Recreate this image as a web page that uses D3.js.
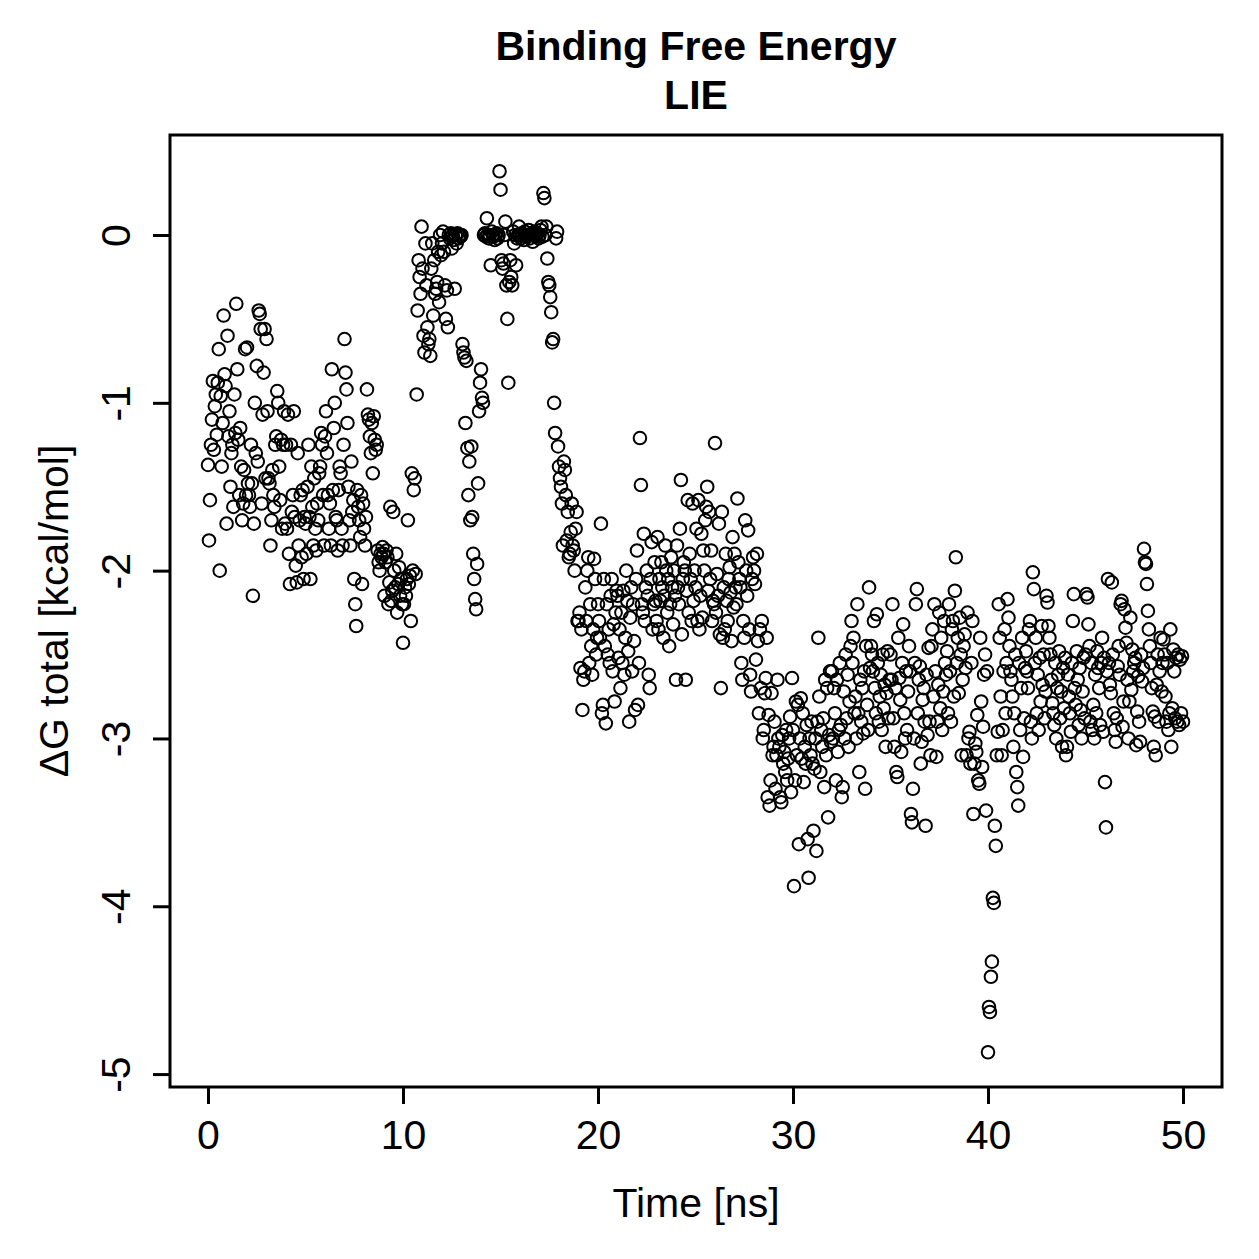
<!DOCTYPE html>
<html>
<head>
<meta charset="utf-8">
<script src="https://cdn.jsdelivr.net/npm/d3@7"></script>
<style>
  body { margin: 0; background: #fff; }
  text { font-family: "Liberation Sans", Arial, Helvetica, sans-serif; }
</style>
</head>
<body>
<div id="chart-area"></div>
<script>
/*
*    LIE binding free energy vs time
*/
var titleLines = ["Binding Free Energy", "LIE"];
var xLabel = "Time [ns]";
var yLabel = "\u0394G total [kcal/mol]";
var xTicks = [0, 10, 20, 30, 40, 50];
var yTicks = [0, -1, -2, -3, -4, -5];
var frameStep = 0.05; // ns between frames

// dG total, one value per frame (20 frames per ns)
var dG_00_10 = [
  -1.37,-1.82,-1.58,-1.25,-1.10,-0.87,-1.28,-1.02,-0.95,-1.19,-0.88,-0.68,-2.00,-0.96,-1.38,-1.12,-0.48,-0.83,-0.90,-1.72,
  -0.60,-1.20,-1.05,-1.50,-1.30,-1.25,-1.62,-0.95,-1.18,-0.41,-0.80,-1.22,-1.55,-1.15,-1.38,-1.70,-1.60,-1.40,-0.68,-1.55,
  -0.67,-1.48,-1.55,-1.62,-1.25,-1.48,-2.15,-1.72,-1.00,-1.30,-0.78,-1.35,-0.45,-0.47,-0.56,-1.60,-1.07,-0.82,-0.56,-1.45,
  -0.62,-1.05,-1.45,-1.48,-1.85,-1.70,-1.40,-1.55,-1.62,-1.25,-1.20,-0.93,-1.00,-1.38,-1.58,-1.22,-1.75,-1.25,-1.05,-1.72,
  -1.25,-1.75,-1.07,-1.90,-2.08,-1.25,-1.65,-1.55,-1.05,-1.68,-1.97,-2.07,-1.30,-1.85,-1.70,-1.55,-1.92,-1.52,-2.05,-1.68,
  -1.72,-1.90,-1.50,-1.25,-1.68,-2.05,-1.38,-1.62,-1.85,-1.45,-1.75,-1.88,-1.60,-1.70,-1.42,-1.38,-1.18,-1.25,-1.55,-1.85,
  -1.20,-1.05,-1.30,-1.55,-1.75,-1.60,-1.85,-0.80,-1.52,-1.15,-1.00,-1.68,-1.70,-1.88,-1.52,-1.38,-1.42,-1.75,-1.85,-1.25,
  -0.62,-0.82,-0.92,-1.12,-1.50,-1.70,-1.85,-1.35,-1.65,-1.58,-2.05,-2.20,-2.33,-1.52,-1.62,-1.70,-1.80,-1.55,-2.08,-1.60,
  -1.75,-1.85,-1.68,-0.92,-1.07,-1.10,-1.20,-1.30,-1.12,-1.42,-1.08,-1.22,-1.28,-1.25,-1.88,-1.95,-2.00,-1.90,-1.92,-1.86,
  -1.90,-2.15,-1.95,-1.88,-1.92,-2.20,-2.07,-1.62,-2.18,-2.12,-1.65,-2.00,-2.10,-1.90,-2.25,-2.08,-1.98,-2.15,-2.05,-2.20
];
var dG_10_20 = [
  -2.43,-2.20,-2.10,-2.15,-2.05,-1.70,-2.08,-2.03,-2.30,-1.42,-2.00,-1.52,-1.45,-2.02,-0.95,-0.45,-0.15,-0.25,-0.35,0.05,
  -0.20,-0.60,-0.70,-0.05,-0.30,-0.55,-0.65,-0.62,-0.72,-0.20,-0.05,-0.48,-0.15,-0.35,-0.32,-0.28,-0.10,-0.40,0.00,-0.12,
  -0.05,0.02,-0.10,-0.30,-0.50,-0.33,-0.55,0.00,-0.02,0.01,-0.08,0.00,-0.03,-0.32,0.00,-0.05,0.01,-0.02,0.00,-0.01,
  0.00,-0.65,-0.70,-0.73,-1.12,-0.75,-1.27,-1.55,-1.35,-1.70,-1.26,-1.68,-1.90,-2.05,-2.17,-2.23,-1.96,-1.48,-1.05,-0.88,
  -0.80,-0.97,-1.00,0.00,0.01,-0.01,0.10,0.00,-0.02,0.00,-0.18,0.02,0.00,-0.01,-0.03,0.00,0.01,-0.02,0.00,0.38,
  0.27,-0.15,-0.20,-0.17,0.00,0.08,-0.30,-0.50,-0.88,-0.28,-0.15,-0.25,-0.30,0.02,-0.05,0.00,-0.18,-0.02,0.00,0.05,
  0.00,-0.02,0.01,0.00,-0.03,0.02,0.00,-0.01,0.00,0.03,-0.02,0.00,0.01,-0.04,0.00,0.02,-0.01,0.00,0.01,-0.02,
  0.00,0.03,0.05,-0.01,0.25,0.22,0.00,0.05,-0.14,-0.28,-0.30,-0.37,-0.46,-0.64,-0.62,-1.00,-1.18,-0.02,0.02,-1.26,
  -1.38,-1.45,-1.50,-1.60,-1.85,-1.35,-1.40,-1.55,-1.82,-1.65,-1.92,-1.90,-1.77,-1.60,-1.85,-1.88,-2.00,-1.75,-1.65,-2.30,
  -2.30,-2.25,-2.58,-2.35,-2.83,-2.65,-2.60,-2.10,-2.30,-2.00,-1.92,-2.55,-2.20,-2.45,-2.62,-2.35,-1.93,-2.05,-2.50,-2.40
];
var dG_20_30 = [
  -2.20,-2.30,-2.40,-1.72,-2.85,-2.80,-2.05,-2.45,-2.91,-2.20,-2.50,-2.35,-2.55,-2.15,-2.05,-2.60,-2.32,-2.78,-2.25,-2.12,
  -2.15,-2.52,-2.35,-2.70,-2.25,-2.55,-2.12,-2.62,-2.40,-2.00,-2.18,-2.48,-2.90,-2.28,-2.10,-2.60,-2.20,-2.42,-2.83,-2.05,
  -1.88,-2.80,-2.55,-1.21,-1.49,-2.20,-2.25,-1.78,-2.30,-2.10,-2.00,-2.15,-2.62,-2.70,-2.05,-1.83,-2.35,-2.20,-1.95,-2.18,
  -2.30,-1.80,-2.35,-2.05,-2.18,-1.95,-2.10,-2.40,-2.15,-1.85,-2.00,-2.25,-2.05,-2.45,-2.20,-1.92,-2.10,-2.32,-2.00,-2.15,
  -2.65,-1.85,-2.10,-2.20,-1.75,-1.46,-2.38,-2.05,-1.95,-2.00,-2.65,-2.12,-1.58,-2.25,-1.90,-2.05,-2.30,-1.60,-2.18,-2.00,
  -2.10,-1.75,-2.30,-1.58,-2.35,-2.15,-1.78,-2.28,-1.88,-2.00,-1.70,-1.62,-1.50,-2.12,-1.65,-2.05,-1.88,-2.30,-2.18,-2.20,
  -1.24,-2.25,-2.02,-2.15,-1.72,-2.38,-2.70,-1.65,-2.40,-2.10,-2.35,-1.90,-2.18,-2.30,-2.05,-1.98,-2.13,-2.42,-1.80,-2.22,
  -1.90,-2.10,-2.20,-1.57,-1.95,-2.05,-2.10,-2.55,-2.65,-2.30,-2.40,-1.70,-2.00,-2.15,-1.76,-2.35,-2.62,-2.72,-2.05,-1.92,
  -2.00,-2.08,-2.53,-1.90,-2.42,-2.85,-2.35,-2.70,-2.30,-3.00,-2.95,-2.73,-2.64,-2.40,-3.35,-2.86,-3.40,-3.25,-2.73,-3.10,
  -3.05,-2.90,-3.30,-3.10,-2.65,-3.00,-3.05,-3.35,-3.38,-2.98,-3.15,-3.08,-3.20,-2.95,-3.25,-3.12,-3.00,-2.87,-3.32,-2.64
];
var dG_30_40 = [
  -2.95,-3.88,-3.25,-2.78,-3.10,-2.80,-3.63,-3.00,-2.76,-3.12,-2.85,-3.26,-3.05,-3.15,-2.92,-3.60,-3.83,-3.00,-3.10,-2.90,
  -3.15,-3.55,-3.18,-3.00,-3.67,-2.90,-2.40,-2.75,-3.20,-2.95,-3.05,-2.88,-3.29,-2.65,-3.10,-2.70,-3.47,-2.98,-2.60,-3.02,
  -2.60,-3.00,-2.70,-2.85,-3.25,-2.65,-3.08,-2.95,-2.55,-2.92,-3.35,-3.29,-2.72,-3.00,-2.50,-2.88,-2.62,-3.05,-2.78,-2.45,
  -2.30,-2.55,-2.40,-2.85,-2.75,-3.00,-2.20,-2.85,-3.20,-2.65,-2.90,-2.70,-2.97,-2.60,-3.30,-2.45,-2.80,-2.95,-2.10,-2.58,
  -2.45,-2.50,-2.60,-2.30,-2.70,-2.85,-2.26,-2.55,-2.90,-2.75,-2.62,-2.95,-2.50,-2.82,-2.68,-3.05,-2.73,-2.48,-2.88,-2.65,
  -2.50,-2.65,-2.20,-2.88,-3.05,-2.70,-3.20,-3.23,-2.40,-2.64,-2.77,-3.08,-2.55,-2.32,-2.85,-3.00,-2.60,-2.95,-2.72,-2.45,
  -2.60,-3.45,-3.50,-3.30,-3.00,-2.55,-2.20,-2.11,-2.85,-2.65,-2.57,-3.15,-3.02,-2.77,-2.70,-2.90,-3.52,-2.62,-2.98,-2.46,
  -2.90,-3.10,-2.45,-2.35,-2.75,-2.20,-2.60,-3.11,-2.90,-2.68,-2.25,-2.82,-2.40,-2.95,-2.72,-2.30,-2.55,-2.62,-2.48,-2.85,
  -2.20,-2.60,-2.90,-2.35,-2.30,-2.75,-2.12,-1.92,-2.55,-2.40,-2.73,-2.28,-2.50,-3.10,-2.65,-2.45,-2.38,-2.58,-3.10,-2.25,
  -3.00,-2.96,-3.15,-2.55,-2.30,-3.45,-3.15,-3.03,-3.08,-2.86,-3.25,-3.27,-2.40,-2.78,-3.17,-2.93,-2.62,-2.50,-3.43,-2.60
];
var dG_40_50 = [
  -4.87,-4.60,-4.63,-4.42,-4.33,-3.95,-3.98,-3.52,-3.64,-3.10,-2.96,-2.20,-2.40,-2.75,-3.10,-2.95,-2.60,-2.35,-2.85,-2.55,
  -2.17,-2.28,-2.45,-2.60,-2.65,-2.75,-3.05,-2.85,-2.50,-3.20,-3.29,-3.40,-2.55,-2.95,-2.70,-2.40,-3.11,-2.88,-2.58,-2.48,
  -2.60,-2.70,-2.35,-2.30,-2.90,-3.00,-2.01,-2.11,-2.55,-2.40,-2.85,-2.62,-2.95,-2.52,-2.78,-2.33,-2.68,-2.50,-2.88,-2.72,
  -2.15,-2.19,-2.33,-2.40,-2.50,-2.65,-2.79,-2.85,-2.92,-2.55,-3.00,-2.70,-2.62,-2.48,-2.88,-2.72,-3.05,-2.58,-2.82,-2.52,
  -3.10,-3.05,-2.62,-2.75,-2.85,-2.96,-2.55,-2.30,-2.14,-2.70,-2.80,-2.48,-2.65,-2.92,-2.58,-2.83,-3.00,-2.72,-2.52,-2.88,
  -2.50,-2.14,-2.16,-2.32,-2.45,-2.90,-2.55,-2.95,-2.80,-3.00,-2.62,-2.85,-2.48,-2.58,-2.70,-2.92,-2.55,-2.40,-2.96,-2.52,
  -3.26,-3.53,-2.60,-2.05,-2.55,-2.68,-2.73,-2.07,-2.50,-2.85,-2.95,-3.02,-2.88,-2.57,-2.45,-2.62,-2.20,-2.18,-2.93,-2.78,
  -2.23,-2.34,-2.43,-2.65,-3.00,-2.78,-2.28,-2.71,-2.47,-2.60,-2.55,-2.52,-3.04,-2.84,-2.63,-2.90,-3.02,-2.50,-2.66,-2.58,
  -1.87,-1.95,-1.96,-2.08,-2.24,-2.35,-2.45,-2.55,-2.70,-2.84,-3.05,-2.87,-3.10,-2.68,-2.50,-2.90,-2.60,-2.40,-2.72,-2.55,
  -2.41,-2.50,-2.75,-2.90,-2.55,-2.95,-2.85,-2.35,-3.05,-2.82,-2.47,-2.60,-2.88,-2.52,-2.90,-2.50,-2.92,-2.53,-2.85,-2.51,
  -2.90
];

var dG = dG_00_10.concat(dG_10_20, dG_20_30, dG_30_40, dG_40_50);
var data = dG.map(function(v, i) { return {time: i * frameStep, dg: v}; });

var width = 1259;
var height = 1259;
var box = {left: 170, right: 1222, top: 135, bottom: 1087};

var svg = d3.select("#chart-area").append("svg")
    .attr("width", width)
    .attr("height", height);

var x = d3.scaleLinear()
    .domain([-1.95, 52.0])
    .range([box.left, box.right]);

var y = d3.scaleLinear()
    .domain([-5.077, 0.596])
    .range([box.bottom, box.top]);

// points
svg.append("g")
    .selectAll("circle")
    .data(data)
    .enter().append("circle")
    .attr("cx", function(d) { return x(d.time); })
    .attr("cy", function(d) { return y(d.dg); })
    .attr("r", 6.3)
    .attr("fill", "none")
    .attr("stroke", "#000")
    .attr("stroke-width", 2);

// plot box
svg.append("rect")
    .attr("x", box.left)
    .attr("y", box.top)
    .attr("width", box.right - box.left)
    .attr("height", box.bottom - box.top)
    .attr("fill", "none")
    .attr("stroke", "#000")
    .attr("stroke-width", 3);

var plainNum = function(d) { return String(d); };

var xAxisGroup = svg.append("g")
    .attr("transform", "translate(0," + box.bottom + ")")
    .call(d3.axisBottom(x).tickValues(xTicks).tickFormat(plainNum).tickSize(17).tickPadding(16));

var yAxisGroup = svg.append("g")
    .attr("transform", "translate(" + box.left + ",0)")
    .call(d3.axisLeft(y).tickValues(yTicks).tickFormat(plainNum).tickSize(17));

[xAxisGroup, yAxisGroup].forEach(function(g) {
    g.select(".domain").remove();
    g.selectAll(".tick line").attr("stroke", "#000").attr("stroke-width", 3);
    g.selectAll(".tick text")
        .attr("fill", "#000")
        .attr("font-size", "41px")
        .attr("font-family", "Liberation Sans, Arial, sans-serif");
});

yAxisGroup.selectAll(".tick text")
    .attr("transform", "rotate(-90)")
    .attr("x", 0)
    .attr("y", -40)
    .attr("dy", 0)
    .attr("text-anchor", "middle");

// axis labels
svg.append("text")
    .attr("x", (box.left + box.right) / 2)
    .attr("y", 1217)
    .attr("font-size", "41px")
    .attr("text-anchor", "middle")
    .text(xLabel);

svg.append("text")
    .attr("transform", "translate(68," + (box.top + box.bottom) / 2 + ") rotate(-90)")
    .attr("font-size", "41px")
    .attr("text-anchor", "middle")
    .text(yLabel);

// title
svg.selectAll(".title")
    .data(titleLines)
    .enter().append("text")
    .attr("class", "title")
    .attr("x", (box.left + box.right) / 2)
    .attr("y", function(d, i) { return 60 + i * 49; })
    .attr("font-size", "41px")
    .attr("font-weight", "bold")
    .attr("text-anchor", "middle")
    .text(function(d) { return d; });
</script>
</body>
</html>
